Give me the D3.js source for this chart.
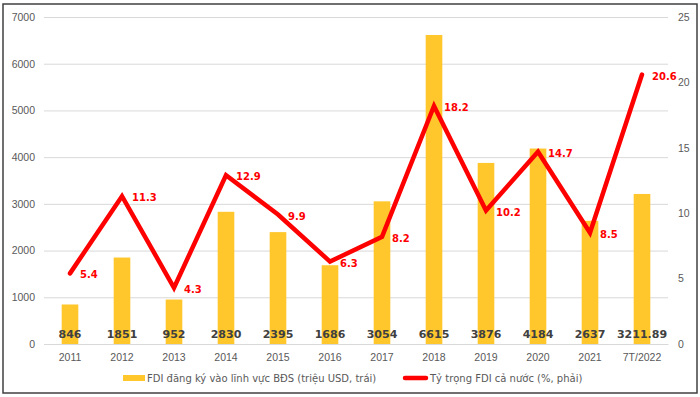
<!DOCTYPE html>
<html>
<head>
<meta charset="utf-8">
<script src="https://cdn.jsdelivr.net/npm/d3@7"></script>
<style>
  body { margin: 0; background: #fff; }
  svg { font-family: "DejaVu Sans", Verdana, sans-serif; }
</style>
</head>
<body>
<svg id="chart" width="700" height="397"></svg>
<script>
const years = ["2011", "2012", "2013", "2014", "2015", "2016", "2017", "2018", "2019", "2020", "2021", "7T/2022"]
const fdiValues = [846, 1851, 952, 2830, 2395, 1686, 3054, 6615, 3876, 4184, 2637, 3211.89]
const shareValues = [5.4, 11.3, 4.3, 12.9, 9.9, 6.3, 8.2, 18.2, 10.2, 14.7, 8.5, 20.6]
const leftTicks = [0, 1000, 2000, 3000, 4000, 5000, 6000, 7000]
const rightTicks = [0, 5, 10, 15, 20, 25]
const legendLabels = ["FDI đăng ký vào lĩnh vực BĐS (triệu USD, trái)", "Tỷ trọng FDI cả nước (%, phải)"]

const margin = {top: 17, right: 32, bottom: 53, left: 44},
    width = 700,
    height = 397

const svg = d3.select("#chart")

// frame
svg.append("rect")
    .attr("x", 3).attr("y", 4)
    .attr("width", 694).attr("height", 389)
    .attr("fill", "none")
    .attr("stroke", "#404040")
    .attr("stroke-width", 1.5)

const fx = d3.scaleBand()
    .domain(years)
    .range([margin.left, width - margin.right])
    .paddingInner(0.68)
    .paddingOuter(0.34)

const fy = d3.scaleLinear()
    .domain([0, 7000])
    .range([height - margin.bottom, margin.top])

const fy2 = d3.scaleLinear()
    .domain([0, 25])
    .range([height - margin.bottom, margin.top])

const cx = d => fx(d) + fx.bandwidth() / 2

// grid + left axis
const gl = svg.append("g")
    .attr("transform", "translate(" + margin.left + ",0)")
    .call(d3.axisLeft(fy).tickValues(leftTicks)
        .tickFormat(d3.format("d"))
        .tickSize(-(width - margin.left - margin.right))
        .tickPadding(9))
gl.select(".domain").remove()
gl.selectAll(".tick line").attr("stroke", "#d9d9d9").attr("stroke-width", 1)
gl.selectAll(".tick text").attr("fill", "#595959").style("font-size", "10.5px")

// right axis
const gr = svg.append("g")
    .attr("transform", "translate(" + (width - margin.right) + ",0)")
    .call(d3.axisRight(fy2).tickValues(rightTicks).tickSize(0).tickPadding(10))
gr.select(".domain").remove()
gr.selectAll(".tick text").attr("fill", "#595959").style("font-size", "10.5px")

// bottom axis
const gb = svg.append("g")
    .attr("transform", "translate(0," + (height - margin.bottom) + ")")
    .call(d3.axisBottom(fx).tickSize(0).tickPadding(10))
gb.select(".domain").attr("stroke", "#d9d9d9")
gb.selectAll(".tick text").attr("fill", "#595959").style("font-size", "10.5px")

// bars
svg.append("g").selectAll("rect")
    .data(years)
    .join("rect")
    .attr("x", d => fx(d))
    .attr("width", fx.bandwidth())
    .attr("y", (d, i) => fy(fdiValues[i]))
    .attr("height", (d, i) => fy(0) - fy(fdiValues[i]))
    .attr("fill", "#ffc72c")

svg.append("g").selectAll("text")
    .data(years)
    .join("text")
    .attr("x", d => cx(d))
    .attr("y", fy(0) - 6)
    .attr("text-anchor", "middle")
    .attr("fill", "#404040")
    .style("font-size", "11px")
    .style("font-weight", "bold")
    .text((d, i) => String(fdiValues[i]))

// line
const valueline = d3.line()
    .x((d, i) => cx(years[i]))
    .y(d => fy2(d))

svg.append("path")
    .datum(shareValues)
    .attr("d", valueline)
    .attr("fill", "none")
    .attr("stroke", "#ff0000")
    .attr("stroke-width", 4.5)
    .attr("stroke-linecap", "round")
    .attr("stroke-linejoin", "miter")

svg.append("g").selectAll("text")
    .data(shareValues)
    .join("text")
    .attr("x", (d, i) => cx(years[i]) + 10)
    .attr("y", d => fy2(d) + 5)
    .attr("fill", "#ff0000")
    .style("font-size", "10px")
    .style("font-weight", "bold")
    .text(d => d.toFixed(1))

// legend
const lg = svg.append("g").attr("transform", "translate(0,378)")
lg.append("rect")
    .attr("x", 123).attr("y", -3)
    .attr("width", 22).attr("height", 6)
    .attr("fill", "#ffc72c")
lg.append("text")
    .attr("x", 147).attr("y", 4)
    .attr("fill", "#595959")
    .style("font-size", "10px")
    .text(legendLabels[0])
lg.append("line")
    .attr("x1", 405).attr("x2", 426)
    .attr("y1", 0).attr("y2", 0)
    .attr("stroke", "#ff0000")
    .attr("stroke-width", 4.5)
    .attr("stroke-linecap", "round")
lg.append("text")
    .attr("x", 430).attr("y", 4)
    .attr("fill", "#595959")
    .style("font-size", "10px")
    .text(legendLabels[1])
</script>
</body>
</html>
